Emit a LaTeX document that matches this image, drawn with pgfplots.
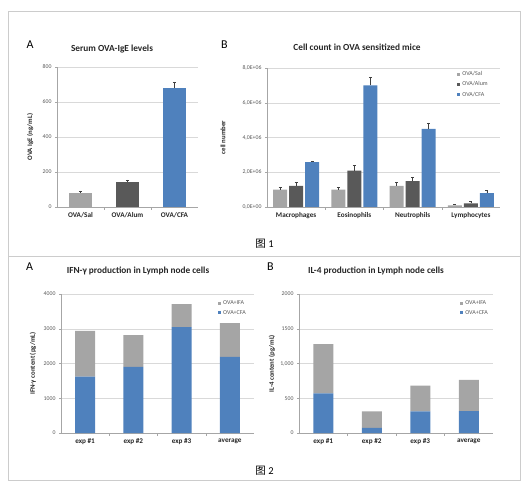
\documentclass[border=0pt]{standalone}
\usepackage{fontspec}
\setmainfont{Carlito}
\newfontfamily\cjk{Noto Sans CJK SC}
\usepackage{pgfplots}
\pgfplotsset{compat=1.18}

\definecolor{salgray}{HTML}{A5A5A5}
\definecolor{alumgray}{HTML}{595959}
\definecolor{cfablue}{HTML}{4F81BD}
\definecolor{gridgray}{HTML}{D9D9D9}
\definecolor{axisgray}{HTML}{A6A6A6}
\definecolor{labelgray}{HTML}{595959}
\definecolor{framegray}{HTML}{CCCCCC}

\pgfplotsset{
  xlbar/.style={
    scale only axis, anchor=south west, ymin=0,
    axis x line*=bottom, axis y line*=left,
    axis line style={draw=axisgray, line width=0.5pt},
    ymajorgrids, grid style={draw=gridgray, line width=0.4pt},
    tick align=outside, major tick length=2pt, minor tick length=3pt,
    major x tick style={draw=none},
    minor x tick style={draw=axisgray, line width=0.5pt},
    y tick style={draw=axisgray, line width=0.5pt},
    /pgf/number format/assume math mode=true,
    /pgf/number format/1000 sep={},
    yticklabel style={font=\fontsize{5.8}{7}\selectfont, text=labelgray},
    xticklabel style={font=\bfseries\fontsize{7.2}{8}\selectfont, text=black!85},
    title style={font=\bfseries\fontsize{9.3}{11}\selectfont, text=black!85, at={(0.5,1)}, anchor=base},
    ylabel style={font=\bfseries\fontsize{6.8}{8}\selectfont, text=black!85, anchor=center},
    legend style={draw=none, fill=none, font=\fontsize{6}{7}\selectfont, text=labelgray,
      anchor=north east, row sep=0.5pt, inner sep=0pt},
    legend cell align=left,
    every axis plot/.append style={draw=none,
      legend image code/.code={\fill[##1] (0pt,-1.5pt) rectangle (3pt,1.5pt);}},
    error bars/error bar style={draw=black!75, line width=0.4pt},
    error bars/error mark options={rotate=90, mark size=1.5pt, draw=black!75, line width=0.4pt},
    clip=false,
  },
}

\begin{document}
\begin{tikzpicture}
\path[use as bounding box] (0pt,0pt) rectangle (527pt,490pt);
\draw[framegray, line width=0.8pt] (8pt,10pt) rectangle (520pt,479pt);
\draw[framegray, line width=0.8pt] (8pt,234pt) -- (520pt,234pt);

\node[font=\fontsize{12}{12}\selectfont] at (30pt,445pt) {A};
\node[font=\fontsize{12}{12}\selectfont] at (224.5pt,445pt) {B};
\node[font=\fontsize{12}{12}\selectfont] at (29.5pt,223.5pt) {A};
\node[font=\fontsize{12}{12}\selectfont] at (270.5pt,223pt) {B};
\node[font=\fontsize{10.5}{10.5}\selectfont] at (264.5pt,246pt) {{\cjk 图} 1};
\node[font=\fontsize{10.5}{10.5}\selectfont] at (264.5pt,19pt) {{\cjk 图} 2};

% Figure 1 A
\begin{axis}[xlbar, at={(57pt,283pt)}, width=141pt, height=140pt,
  xmin=-0.5, xmax=2.5, ymax=800, ytick={0,200,400,600,800},
  xtick={0,1,2}, xticklabels={OVA/Sal,OVA/Alum,OVA/CFA}, minor xtick={0.5,1.5},
  ylabel={OVA IgE (ng/mL)}, ylabel style={at={(axis description cs:-0.19,0.5)}},
  title={Serum OVA-IgE levels}, title style={xshift=-15.5pt, yshift=10pt},
  ybar, bar width=23pt]
\addplot[fill=salgray, bar shift=0pt, error bars/.cd, y dir=plus, y explicit]
  coordinates {(0,80) +- (0,13)};
\addplot[fill=alumgray, bar shift=0pt, error bars/.cd, y dir=plus, y explicit]
  coordinates {(1,142) +- (0,13)};
\addplot[fill=cfablue, bar shift=0pt, error bars/.cd, y dir=plus, y explicit]
  coordinates {(2,680) +- (0,35)};
\end{axis}

% Figure 1 B (values in millions)
\begin{axis}[xlbar, at={(267pt,283pt)}, width=233pt, height=139pt,
  xmin=-0.5, xmax=3.5, ymax=8, ytick={0,2,4,6,8},
  yticklabels={{0,0E+00},{2,0E+06},{4,0E+06},{6,0E+06},{8,0E+06}},
  xtick={0,1,2,3}, xticklabels={Macrophages,Eosinophils,Neutrophils,Lymphocytes},
  minor xtick={0.5,1.5,2.5},
  ylabel={cell number}, ylabel style={at={(axis description cs:-0.189,0.5)}},
  title={Cell count in OVA sensitized mice}, title style={xshift=-26.5pt, yshift=12pt},
  ybar=2pt, bar width=14pt,
  legend style={at={(0.957,0.99)}}]
\addplot[fill=salgray, error bars/.cd, y dir=plus, y explicit]
  coordinates {(0,1.0) +- (0,0.14) (1,1.0) +- (0,0.15) (2,1.22) +- (0,0.19) (3,0.10) +- (0,0.07)};
\addplot[fill=alumgray, error bars/.cd, y dir=plus, y explicit]
  coordinates {(0,1.22) +- (0,0.19) (1,2.1) +- (0,0.29) (2,1.49) +- (0,0.21) (3,0.21) +- (0,0.11)};
\addplot[fill=cfablue, error bars/.cd, y dir=plus, y explicit]
  coordinates {(0,2.58) +- (0,0.05) (1,7.0) +- (0,0.45) (2,4.5) +- (0,0.35) (3,0.8) +- (0,0.15)};
\legend{OVA/Sal,OVA/Alum,OVA/CFA}
\end{axis}

% Figure 2 A
\begin{axis}[xlbar, at={(61pt,57pt)}, width=193pt, height=139pt,
  xmin=-0.5, xmax=3.5, ymax=4000, ytick={0,1000,2000,3000,4000},
  xtick={0,1,2,3}, xticklabels={exp \#1,exp \#2,exp \#3,average},
  minor xtick={0.5,1.5,2.5},
  ylabel={IFN-γ content (pg/mL)}, ylabel style={at={(axis description cs:-0.145,0.5)}},
  title={IFN-γ production in Lymph node cells}, title style={xshift=-19.5pt, yshift=15pt},
  ybar stacked, bar width=20pt, reverse legend,
  legend style={at={(0.969,0.97)}}]
\addplot[fill=cfablue] coordinates {(0,1620) (1,1900) (2,3050) (3,2190)};
\addplot[fill=salgray] coordinates {(0,1320) (1,920) (2,660) (3,970)};
\legend{OVA+CFA,OVA+IFA}
\end{axis}

% Figure 2 B
\begin{axis}[xlbar, at={(299pt,57pt)}, width=194pt, height=139pt,
  xmin=-0.5, xmax=3.5, ymax=2000, ytick={0,500,1000,1500,2000},
  yticklabels={0,500,{1,000},1500,2000},
  xtick={0,1,2,3}, xticklabels={exp \#1,exp \#2,exp \#3,average},
  minor xtick={0.5,1.5,2.5},
  ylabel={IL-4 content (pg/mL)}, ylabel style={at={(axis description cs:-0.139,0.5)}},
  title={IL-4 production in Lymph node cells}, title style={xshift=-20pt, yshift=15pt},
  ybar stacked, bar width=20pt, reverse legend,
  legend style={at={(0.985,0.97)}}]
\addplot[fill=cfablue] coordinates {(0,570) (1,75) (2,310) (3,315)};
\addplot[fill=salgray] coordinates {(0,710) (1,235) (2,370) (3,450)};
\legend{OVA+CFA,OVA+IFA}
\end{axis}
\end{tikzpicture}
\end{document}
